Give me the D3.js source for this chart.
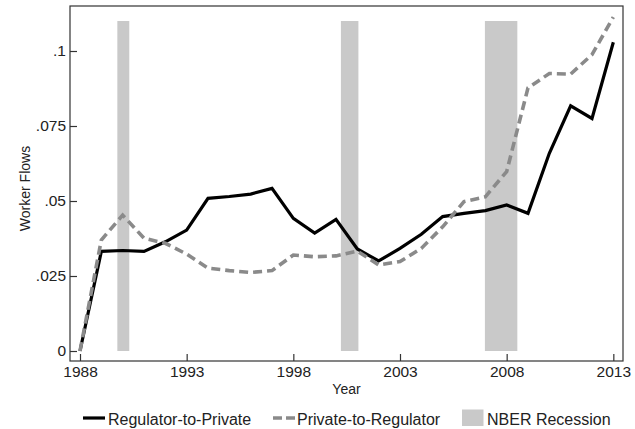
<!DOCTYPE html>
<html>
<head>
<meta charset="utf-8">
<script src="https://cdn.jsdelivr.net/npm/d3@7"></script>
<style>
  html, body { margin: 0; padding: 0; background: #fff; }
  svg { display: block; font-family: "Liberation Sans", Arial, Helvetica, sans-serif; }
</style>
</head>
<body>
<svg id="chart" width="635" height="429"></svg>
<script>
// Annual worker flows between regulators and the private sector
const years = d3.range(1988, 2014);
const regulatorToPrivate = [
  0.0, 0.0332, 0.0335, 0.0332, 0.0364, 0.0403, 0.0509, 0.0515, 0.0523, 0.0542,
  0.0442, 0.0393, 0.0439, 0.0340, 0.0300, 0.0342, 0.0389, 0.0448, 0.0459, 0.0468,
  0.0487, 0.0459, 0.0659, 0.0817, 0.0775, 0.1029
];
const privateToRegulator = [
  0.0, 0.0370, 0.0453, 0.0376, 0.0359, 0.0323, 0.0276, 0.0268, 0.0262, 0.0268,
  0.0320, 0.0314, 0.0317, 0.0333, 0.0287, 0.0298, 0.0342, 0.0414, 0.0498, 0.0514,
  0.0598, 0.0877, 0.0925, 0.0923, 0.0988, 0.1113
];
// NBER recession spans (start, end) and shaded height
const recessions = [[1989.75, 1990.31], [2000.23, 2001.05], [2006.98, 2008.5]];
const recessionTop = 0.11;

const xTicks = [1988, 1993, 1998, 2003, 2008, 2013];
const yTicks = [0, 0.025, 0.05, 0.075, 0.1];
const yTickLabels = ["0", ".025", ".05", ".075", ".1"];

const legendLabels = ["Regulator-to-Private", "Private-to-Regulator", "NBER Recession"];

const frame = { left: 70, right: 623, top: 6, bottom: 361 };

const x = d3.scaleLinear().domain([1988, 2013]).range([80, 613.33]);
const y = d3.scaleLinear().domain([0, 0.1]).range([351, 51]);

const svg = d3.select("#chart");
const ink = "#222";

// recession shading
svg.append("g").selectAll("rect").data(recessions).join("rect")
  .attr("x", d => x(d[0]))
  .attr("width", d => x(d[1]) - x(d[0]))
  .attr("y", y(recessionTop))
  .attr("height", y(0) - y(recessionTop))
  .attr("fill", "#c9c9c9");

// series
const line = d3.line().x((d, i) => x(years[i])).y(d => y(d));

svg.append("path").datum(regulatorToPrivate)
  .attr("d", line).attr("fill", "none")
  .attr("stroke", "#000").attr("stroke-width", 3.2)
  .attr("stroke-linejoin", "miter");

svg.append("path").datum(privateToRegulator)
  .attr("d", line).attr("fill", "none")
  .attr("stroke", "#8a8a8a").attr("stroke-width", 3.6)
  .attr("stroke-dasharray", "9,5");

// plot frame
svg.append("rect")
  .attr("x", frame.left).attr("y", frame.top)
  .attr("width", frame.right - frame.left).attr("height", frame.bottom - frame.top)
  .attr("fill", "none").attr("stroke", "#333").attr("stroke-width", 1.2);

// axes
const xAxis = d3.axisBottom(x).tickValues(xTicks).tickFormat(d3.format("d"))
  .tickSize(-7).tickPadding(5);
const gx = svg.append("g").attr("transform", `translate(0,${frame.bottom})`).call(xAxis);

const yAxis = d3.axisLeft(y).tickValues(yTicks).tickFormat((d, i) => yTickLabels[i])
  .tickSize(-7).tickPadding(4);
const gy = svg.append("g").attr("transform", `translate(${frame.left},0)`).call(yAxis);

[gx, gy].forEach(g => {
  g.select(".domain").remove();
  g.selectAll(".tick line").attr("stroke", "#333").attr("stroke-width", 1.2);
  g.selectAll(".tick text").attr("fill", ink)
    .style("font-size", "15.5px").style("font-family", "Liberation Sans, Arial, sans-serif");
});

// axis titles
svg.append("text")
  .attr("x", (frame.left + frame.right) / 2).attr("y", 394)
  .attr("text-anchor", "middle").attr("fill", ink)
  .style("font-size", "14px").text("Year");

svg.append("text")
  .attr("transform", `translate(30,${(frame.top + frame.bottom) / 2 + 5}) rotate(-90)`)
  .attr("text-anchor", "middle").attr("fill", ink)
  .style("font-size", "14px").text("Worker Flows");

// legend
const lg = svg.append("g");
const legendY = 418;
lg.append("line").attr("x1", 83).attr("x2", 105).attr("y1", legendY).attr("y2", legendY)
  .attr("stroke", "#000").attr("stroke-width", 3.2);
lg.append("text").attr("x", 108).attr("y", 425).attr("fill", ink)
  .style("font-size", "16px").text(legendLabels[0]);

lg.append("line").attr("x1", 273).attr("x2", 295).attr("y1", legendY).attr("y2", legendY)
  .attr("stroke", "#8a8a8a").attr("stroke-width", 3.6).attr("stroke-dasharray", "9,4");
lg.append("text").attr("x", 297).attr("y", 425).attr("fill", ink)
  .style("font-size", "16px").text(legendLabels[1]);

lg.append("rect").attr("x", 462).attr("y", 409.5).attr("width", 21.5).attr("height", 16.5)
  .attr("fill", "#c9c9c9");
lg.append("text").attr("x", 487).attr("y", 425).attr("fill", ink)
  .style("font-size", "16px").text(legendLabels[2]);
</script>
</body>
</html>
